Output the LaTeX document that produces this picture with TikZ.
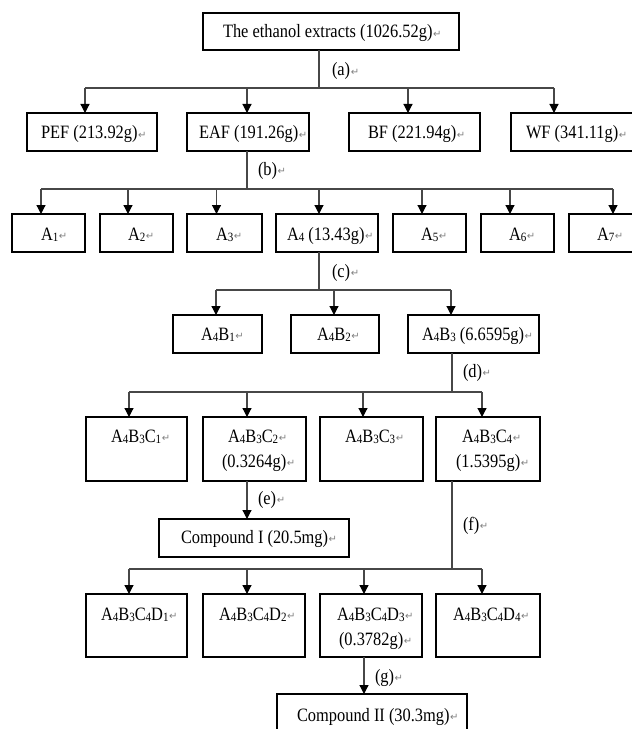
\documentclass[tikz,border=0pt]{standalone}
\usepackage{fontspec}
\setmainfont{Liberation Serif}
\newfontfamily\symfont{DejaVu Sans}
\usepackage{graphicx}
\usetikzlibrary{arrows.meta}
\newcommand\retmark{\hspace{0.6bp}\raisebox{0.8bp}{\symfont\fontsize{10bp}{10bp}\selectfont\textcolor{black!50}{↵}}}
\newcommand\tx[1]{\scalebox{1}[1.15]{#1}\retmark}
\newcommand\lo[1]{\raisebox{-0.1em}{\fontsize{11bp}{11bp}\selectfont #1}}
\newcommand\bx[5]{\node[box, minimum width={(#4-#2)*1bp}, minimum height={(#5-#3)*1bp}] (#1) at (#2,#3) {};}
\newcommand\tn[4]{\node[txt] (#1) at (#2,#3) {\tx{#4}};}
\tikzset{
  box/.style={draw=black, line width=1.1bp, anchor=north west, inner sep=0pt, outer sep=0pt},
  ln/.style={draw=black!72, line width=1.2bp},
  arr/.style={ln, -{Triangle[width=9bp,length=9bp,color=black]}},
  txt/.style={anchor=base west, inner sep=0pt, outer sep=0pt, font=\fontsize{16.4bp}{19bp}\selectfont},
}
\begin{document}
\begin{tikzpicture}[x=1bp,y=-1bp]
\useasboundingbox (0,0) rectangle (632,729);
\clip (0,0) rectangle (632,729);
% boxes
\bx{top}{203}{13}{459}{50}
\bx{PEF}{27}{113}{157}{151}
\bx{EAF}{187}{113}{309}{151}
\bx{BF}{349}{113}{480}{151}
\bx{WF}{511}{113}{660}{151}
\bx{A1}{12}{214}{85}{252}
\bx{A2}{100}{214}{173}{252}
\bx{A3}{187}{214}{262}{252}
\bx{A4}{276}{214}{378}{252}
\bx{A5}{393}{214}{466}{252}
\bx{A6}{481}{214}{554}{252}
\bx{A7}{569}{214}{660}{252}
\bx{B1}{173}{315}{262}{353}
\bx{B2}{291}{315}{379}{353}
\bx{B3}{408}{315}{539}{353}
\bx{C1}{86}{417}{187}{481}
\bx{C2}{203}{417}{306}{481}
\bx{C3}{320}{417}{423}{481}
\bx{C4}{436}{417}{540}{481}
\bx{CI}{159}{519}{349}{557}
\bx{D1}{86}{594}{187}{657}
\bx{D2}{203}{594}{305}{657}
\bx{D3}{320}{594}{422}{657}
\bx{D4}{436}{594}{540}{657}
\bx{CII}{277}{694}{467}{760}
% texts
\tn{tTop}{223}{38}{The ethanol extracts (1026.52g)}
\tn{tPEF}{41}{139}{PEF (213.92g)}
\tn{tEAF}{199}{139}{EAF (191.26g)}
\tn{tBF}{368}{139}{BF (221.94g)}
\tn{tWF}{526}{139}{WF (341.11g)}
\tn{tA1}{41}{240}{A\lo{1}}
\tn{tA2}{128}{240}{A\lo{2}}
\tn{tA3}{216}{240}{A\lo{3}}
\tn{tA4}{287}{240}{A\lo{4} (13.43g)}
\tn{tA5}{421}{240}{A\lo{5}}
\tn{tA6}{509}{240}{A\lo{6}}
\tn{tA7}{597}{240}{A\lo{7}}
\tn{tB1}{201}{340}{A\lo{4}B\lo{1}}
\tn{tB2}{317}{340}{A\lo{4}B\lo{2}}
\tn{tB3}{422}{340}{A\lo{4}B\lo{3} (6.6595g)}
\tn{tC1}{111}{442}{A\lo{4}B\lo{3}C\lo{1}}
\tn{tC2}{228}{442}{A\lo{4}B\lo{3}C\lo{2}}
\tn{tC2b}{222}{467}{(0.3264g)}
\tn{tC3}{345}{442}{A\lo{4}B\lo{3}C\lo{3}}
\tn{tC4}{462}{442}{A\lo{4}B\lo{3}C\lo{4}}
\tn{tC4b}{456}{467}{(1.5395g)}
\tn{tCI}{181}{543}{Compound I (20.5mg)}
\tn{tD1}{101}{620}{A\lo{4}B\lo{3}C\lo{4}D\lo{1}}
\tn{tD2}{219}{620}{A\lo{4}B\lo{3}C\lo{4}D\lo{2}}
\tn{tD3}{337}{620}{A\lo{4}B\lo{3}C\lo{4}D\lo{3}}
\tn{tD3b}{339}{645}{(0.3782g)}
\tn{tD4}{453}{620}{A\lo{4}B\lo{3}C\lo{4}D\lo{4}}
\tn{tCII}{297}{721}{Compound II (30.3mg)}
% step labels
\tn{la}{332}{76}{(a)}
\tn{lb}{258}{175}{(b)}
\tn{lc}{332}{277}{(c)}
\tn{ld}{463}{377}{(d)}
\tn{le}{258}{504}{(e)}
\tn{lf}{463}{530}{(f)}
\tn{lg}{375}{682}{(g)}
% connectors level 1
\coordinate (j1) at (319,88);
\coordinate (p11) at (85,88);
\coordinate (p12) at (247,88);
\coordinate (p13) at (408,88);
\coordinate (p14) at (554,88);
\draw[ln] (top.south -| j1) -- (j1);
\draw[ln] (p11) -- (p14);
\draw[arr] (p11) -- (p11 |- PEF.north);
\draw[arr] (p12) -- (p12 |- EAF.north);
\draw[arr] (p13) -- (p13 |- BF.north);
\draw[arr] (p14) -- (p14 |- WF.north);
% level 2
\coordinate (j2) at (247,189);
\coordinate (p21) at (41,189);
\coordinate (p22) at (128,189);
\coordinate (p23) at (216.5,189);
\coordinate (p24) at (319,189);
\coordinate (p25) at (422,189);
\coordinate (p26) at (510,189);
\coordinate (p27) at (613,189);
\draw[ln] (EAF.south -| j2) -- (j2);
\draw[ln] (p21) -- (p27);
\draw[arr] (p21) -- (p21 |- A1.north);
\draw[arr] (p22) -- (p22 |- A2.north);
\draw[arr] (p23) -- (p23 |- A3.north);
\draw[arr] (p24) -- (p24 |- A4.north);
\draw[arr] (p25) -- (p25 |- A5.north);
\draw[arr] (p26) -- (p26 |- A6.north);
\draw[arr] (p27) -- (p27 |- A7.north);
% level 3
\coordinate (j3) at (319,290);
\coordinate (p31) at (216,290);
\coordinate (p32) at (334,290);
\coordinate (p33) at (451,290);
\draw[ln] (A4.south -| j3) -- (j3);
\draw[ln] (p31) -- (p33);
\draw[arr] (p31) -- (p31 |- B1.north);
\draw[arr] (p32) -- (p32 |- B2.north);
\draw[arr] (p33) -- (p33 |- B3.north);
% level 4
\coordinate (j4) at (452,392);
\coordinate (p41) at (129,392);
\coordinate (p42) at (247,392);
\coordinate (p43) at (363,392);
\coordinate (p44) at (482,392);
\draw[ln] (B3.south -| j4) -- (j4);
\draw[ln] (p41) -- (p44);
\draw[arr] (p41) -- (p41 |- C1.north);
\draw[arr] (p42) -- (p42 |- C2.north);
\draw[arr] (p43) -- (p43 |- C3.north);
\draw[arr] (p44) -- (p44 |- C4.north);
% C2 -> Compound I
\draw[arr] (C2.south -| p42) -- (p42 |- CI.north);
% level 5
\coordinate (j5) at (452,569);
\coordinate (p51) at (129,569);
\coordinate (p52) at (247,569);
\coordinate (p53) at (364,569);
\coordinate (p54) at (482,569);
\draw[ln] (C4.south -| j5) -- (j5);
\draw[ln] (p51) -- (p54);
\draw[arr] (p51) -- (p51 |- D1.north);
\draw[arr] (p52) -- (p52 |- D2.north);
\draw[arr] (p53) -- (p53 |- D3.north);
\draw[arr] (p54) -- (p54 |- D4.north);
% D3 -> Compound II
\draw[arr] (D3.south -| p53) -- (p53 |- CII.north);
\end{tikzpicture}
\end{document}
